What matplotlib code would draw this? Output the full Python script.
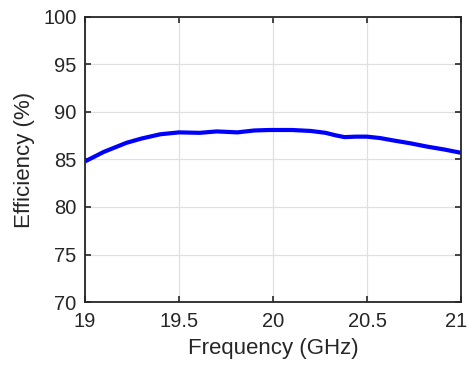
import matplotlib
matplotlib.use("Agg")
import matplotlib.pyplot as plt
import matplotlib.transforms as mtransforms

freq = [19.0, 19.1, 19.22, 19.3, 19.4, 19.5, 19.61, 19.7, 19.81, 19.9, 19.98, 20.1, 20.2, 20.28, 20.33, 20.38, 20.44, 20.5, 20.57, 20.64, 20.73, 20.82, 20.91, 21.0]
eff = [84.8, 85.8, 86.75, 87.2, 87.65, 87.85, 87.8, 87.95, 87.85, 88.05, 88.1, 88.1, 88.0, 87.8, 87.55, 87.35, 87.4, 87.4, 87.25, 87.0, 86.7, 86.35, 86.05, 85.7]

xticks = [19, 19.5, 20, 20.5, 21]
xticklabels = ["19", "19.5", "20", "20.5", "21"]
yticks = [70, 75, 80, 85, 90, 95, 100]

plt.rcParams['font.family'] = ['Liberation Sans', 'DejaVu Sans']
fig = plt.figure(figsize=(4.7, 3.67), dpi=100)
ax = fig.add_axes([0.181, 0.177, 0.8, 0.777])
ax.plot(freq, eff, color='#0000ff', linewidth=3.0, solid_capstyle='butt')
ax.set_xlim(19, 21)
ax.set_ylim(70, 100)
ax.set_xticks(xticks)
ax.set_xticklabels(xticklabels)
ax.set_yticks(yticks)
ax.grid(True, color='#e0e0e0', linewidth=0.9)
ax.set_axisbelow(True)
ax.tick_params(direction='in', length=4, width=1.2, top=True, right=True,
               labelsize=14.5, colors='#262626')
ax.tick_params(axis='x', pad=7)
ax.tick_params(axis='y', pad=6)
for s in ax.spines.values():
    s.set_color('#262626')
    s.set_linewidth(1.3)
ax.set_xlabel('Frequency (GHz)', fontsize=16, color='#262626', labelpad=5)
ax.set_ylabel('Efficiency (%)', fontsize=16, color='#262626', labelpad=6)

# nudge the last x tick label inward so it fits inside the figure
last = ax.get_xticklabels()[-1]
last.set_transform(last.get_transform() + mtransforms.ScaledTranslation(-5 / 100, 0, fig.dpi_scale_trans))

fig.savefig('out.png', dpi=100)
